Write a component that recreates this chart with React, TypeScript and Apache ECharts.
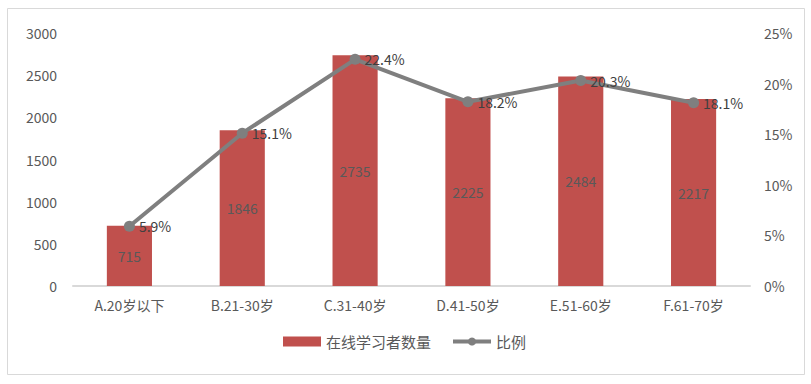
import React, { useEffect, useRef } from "react";
import * as echarts from "echarts";

const categories = ["A.20岁以下", "B.21-30岁", "C.31-40岁", "D.41-50岁", "E.51-60岁", "F.61-70岁"];
const learners = [715, 1846, 2735, 2225, 2484, 2217];
const ratio = [5.9, 15.1, 22.4, 18.2, 20.3, 18.1];
const seriesNames = ["在线学习者数量", "比例"];

const FONT = "'Noto Sans CJK SC', 'Open Sans', sans-serif";

export default function App() {
  const ref = useRef<HTMLDivElement>(null);
  useEffect(() => {
    const chart = echarts.init(ref.current!, null, { renderer: "svg" });
    chart.setOption({
      animation: false,
      backgroundColor: "#ffffff",
      textStyle: { fontFamily: FONT },
      graphic: [
        {
          type: "rect",
          shape: { x: 7.5, y: 8.5, width: 797, height: 366 },
          style: { fill: "none", stroke: "#D9D9D9", lineWidth: 1 },
          silent: true,
        },
      ],
      grid: { left: 73, right: 61, top: 33, bottom: 98 },
      legend: {
        bottom: 30,
        left: 278,
        itemGap: 20,
        textStyle: { fontSize: 15, color: "#595959", fontFamily: FONT },
        data: [
          { name: seriesNames[0], icon: "rect", itemStyle: { color: "#C0504D" } },
          { name: seriesNames[1], lineStyle: { width: 4, color: "#7F7F7F" }, itemStyle: { color: "#7F7F7F" } },
        ],
        itemWidth: 38,
        itemHeight: 10,
      },
      xAxis: {
        type: "category",
        data: categories,
        axisLine: { lineStyle: { color: "#D9D9D9", width: 2 } },
        axisTick: { show: false },
        axisLabel: { color: "#595959", fontSize: 14, margin: 12, fontFamily: FONT },
      },
      yAxis: [
        {
          type: "value",
          min: 0,
          max: 3000,
          interval: 500,
          splitLine: { show: false },
          axisLine: { show: false },
          axisTick: { show: false },
          axisLabel: {
            color: "#595959",
            fontSize: 14,
            margin: 16,
            fontFamily: FONT,
            formatter: (v: number) => String(v),
          },
        },
        {
          type: "value",
          min: 0,
          max: 25,
          interval: 5,
          splitLine: { show: false },
          axisLine: { show: false },
          axisTick: { show: false },
          axisLabel: { color: "#595959", fontSize: 14, margin: 14, formatter: "{value}%", fontFamily: FONT },
        },
      ],
      series: [
        {
          name: seriesNames[0],
          type: "bar",
          data: learners,
          barWidth: "40%",
          itemStyle: { color: "#C0504D" },
          label: { show: true, position: "inside", color: "#595959", fontSize: 14, fontFamily: FONT },
        },
        {
          name: seriesNames[1],
          type: "line",
          yAxisIndex: 1,
          data: ratio,
          symbol: "circle",
          symbolSize: 11,
          lineStyle: { color: "#7F7F7F", width: 4 },
          itemStyle: { color: "#7F7F7F" },
          label: {
            show: true,
            position: "right",
            distance: 4,
            color: "#404040",
            fontSize: 14,
            formatter: (p: any) => p.value.toFixed(1) + "%",
            fontFamily: FONT,
          },
        },
      ],
    });
    return () => chart.dispose();
  }, []);
  return <div ref={ref} style={{ position: "fixed", left: 0, top: 0, width: 811, height: 384 }} />;
}
